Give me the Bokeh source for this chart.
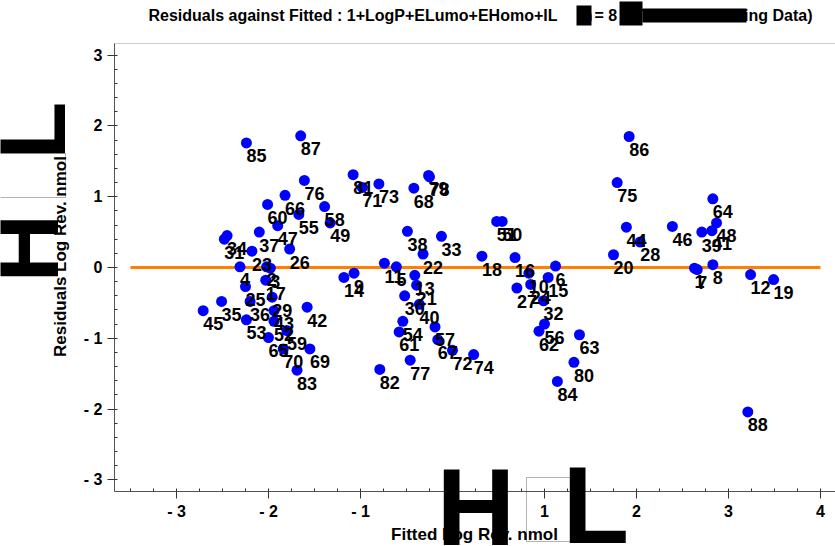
import numpy as np
from bokeh.plotting import figure
from bokeh.models import FixedTicker, Range1d, Label, BoxAnnotation, ColumnDataSource
from bokeh.core.properties import value
from bokeh.embed import file_html
from bokeh.resources import INLINE

# ---- data ----
ids = list(range(1, 89))
fitted = [2.63, -2.02, -1.98, -2.31, -0.61, 1.12, 2.66, 2.83, -1.07, 0.83,
          -0.74, 3.24, -0.41, -1.18, 1.04, 0.68, -2.03, 0.32, 3.49, 1.75,
          -0.39, -0.32, -2.18, 0.85, -2.25, -1.77, 0.70, 2.04, -1.96, -0.52,
          -2.48, 0.99, -0.12, -2.45, -2.51, -2.20, -2.10, -0.49, 2.71, -0.36,
          2.82, -1.58, -1.94, 1.89, -2.71, 2.39, -1.90, 2.87, -1.33, 0.54,
          0.48, -1.94, -2.24, -0.54, -1.67, 1.00, -0.19, -1.39, -1.80, -2.01,
          -0.58, 0.94, 1.38, 2.83, -2.00, -1.82, -0.16, -0.42, -1.55, -1.84,
          -0.98, 0.00, -0.80, 0.23, 1.79, -1.61, -0.46, -0.25, -0.26, 1.32,
          -1.08, -0.79, -1.69, 1.14, -2.24, 1.92, -1.65, 3.21]
residual = [-0.01, 0.01, -0.01, 0.01, 0.01, 0.02, -0.03, 0.04, -0.08, -0.08,
            0.06, -0.10, -0.11, -0.14, -0.14, 0.14, -0.18, 0.16, -0.17, 0.18,
            -0.25, 0.19, 0.23, -0.24, -0.27, 0.26, -0.29, 0.36, -0.42, -0.40,
            0.40, -0.47, 0.44, 0.45, -0.48, -0.48, 0.50, 0.51, 0.50, -0.52,
            0.52, -0.56, -0.61, 0.57, -0.61, 0.58, 0.59, 0.63, 0.63, 0.65,
            0.65, -0.76, -0.74, -0.76, 0.75, -0.80, -0.84, 0.86, -0.89, 0.89,
            -0.91, -0.90, -0.95, 0.97, -0.99, 1.02, -1.02, 1.12, -1.15, -1.15,
            1.13, -1.17, 1.18, -1.23, 1.20, 1.23, -1.31, 1.28, 1.30, -1.34,
            1.31, -1.44, -1.45, -1.61, 1.76, 1.85, 1.86, -2.04]
zero_x = [-3.5, 4.0]
zero_y = [0.0, 0.0]
x_ticks = [-3, -2, -1, 0, 1, 2, 3, 4]
y_ticks = [-3, -2, -1, 0, 1, 2, 3]
tick_text = {-3: "- 3", -2: "- 2", -1: "- 1"}

title_parts = ["Residuals against Fitted : 1+LogP+ELumo+EHomo+IL", "(n", "= 8",
               "8, Train", "ing Data)"]
x_label = "Fitted Log Rev. nmol"
y_label = "Residuals Log Rev. nmol"

# ---- layout constants ----
W, H = 835, 546
X_VIEW = (-4.913, 4.163)   # whole canvas
Y_VIEW = (-3.941, 3.771)
X_BOX = (-3.674, 4.163)    # plotting box
Y_BOX = (-3.164, 3.164)
FONT = "Liberation Sans"
BASE_SHIFT = 0.35          # renderer puts the alphabetic baseline this many em lower


def scr(cx, cy, size=0.0, rotated=False):
    """canvas px (top-left origin, baseline) -> frame screen units"""
    if rotated:
        cx -= BASE_SHIFT * size
    else:
        cy -= BASE_SHIFT * size
    return dict(x=cx, y=H - cy, x_units="screen", y_units="screen")


src = ColumnDataSource(dict(x=fitted, y=residual, lab=[str(i) for i in ids]))

p = figure(width=W, height=H, output_backend="svg", toolbar_location=None,
           x_range=Range1d(*X_VIEW), y_range=Range1d(*Y_VIEW), min_border=0)
p.background_fill_color = "white"
p.border_fill_color = "white"
p.outline_line_color = None
p.xgrid.visible = False
p.ygrid.visible = False

p.line(zero_x, zero_y, color="#FF7F00", line_width=3)
p.scatter("x", "y", source=src, size=11, color="#0000FF", line_color=None)
p.text("x", "y", text="lab", source=src, text_font=value(FONT),
       text_font_style="bold", text_font_size="18px", text_color="black",
       text_align="left", text_baseline="alphabetic", x_offset=0, y_offset=13)

minor_x = [v / 4 for v in range(-14, 17)]
minor_y = [v / 5 for v in range(-15, 16)]
p.xaxis.ticker = FixedTicker(ticks=x_ticks, minor_ticks=minor_x)
p.yaxis.ticker = FixedTicker(ticks=y_ticks, minor_ticks=minor_y)
p.xaxis.fixed_location = Y_BOX[0]
p.yaxis.fixed_location = X_BOX[0]
p.xaxis.bounds = X_BOX
p.yaxis.bounds = Y_BOX
for ax in (p.xaxis[0], p.yaxis[0]):
    ax.major_label_overrides = tick_text
    ax.axis_line_color = "#555555"
    ax.major_tick_line_color = "#333333"
    ax.minor_tick_line_color = "#333333"
    ax.major_tick_in = 0
    ax.major_tick_out = 7
    ax.minor_tick_in = 3
    ax.minor_tick_out = 0
    ax.major_label_text_font = FONT
    ax.major_label_text_font_style = "bold"
    ax.major_label_text_font_size = "16px"
    ax.major_label_text_color = "black"

# plotting box (top / right edges)
p.add_layout(BoxAnnotation(left=X_BOX[0], right=X_BOX[1], bottom=Y_BOX[0],
                           top=Y_BOX[1], fill_alpha=0, line_color="#555555",
                           line_width=1))

txt = dict(text_font=FONT, text_font_style="bold", text_color="black",
           text_baseline="alphabetic")


def box(l, r, t, b, **kw):
    return BoxAnnotation(left=l, right=r, top=H - t, bottom=H - b,
                         left_units="screen", right_units="screen",
                         top_units="screen", bottom_units="screen", **kw)


# title, pieces placed as in the reference (some glyphs are blacked out there)
TS = 16
p.add_layout(Label(text=title_parts[0], text_font_size=f"{TS}px", text_align="left",
                   **scr(148, 21, TS), **txt))
p.add_layout(Label(text=title_parts[1], text_font_size=f"{TS}px", text_align="left",
                   **scr(577, 21, TS), **txt))
p.add_layout(Label(text=title_parts[2], text_font_size=f"{TS}px", text_align="left",
                   **scr(594, 21, TS), **txt))
p.add_layout(Label(text=title_parts[3], text_font_size=f"{TS}px", text_align="left",
                   **scr(621, 21, TS), **txt))
p.add_layout(Label(text=title_parts[4], text_font_size=f"{TS}px", text_align="right",
                   **scr(812, 21, TS), **txt))
p.add_layout(box(576, 591, 5, 25, fill_color="black", fill_alpha=1, line_color=None))
p.add_layout(box(619, 642, 1, 25, fill_color="black", fill_alpha=1, line_color=None))
p.add_layout(box(642, 746, 8, 22, fill_color="black", fill_alpha=1, line_color=None))

# axis titles
p.add_layout(Label(text=x_label, text_font_size="17px", text_align="center",
                   **scr(474, 540, 17), **txt))
p.add_layout(Label(text=y_label, text_font_size="17px", text_align="center",
                   angle=np.pi / 2, **scr(66, 256, 17, True), **txt))

# oversized bracket glyphs as they appear in the reference
p.add_layout(Label(text="H", text_font_size="109px", **scr(436, 545, 109), **txt))
p.add_layout(Label(text="L", text_font_size="109px", **scr(562, 543, 109), **txt))
p.add_layout(Label(text="H", text_font_size="95px", angle=np.pi / 2,
                   **scr(58, 282, 95, True), **txt))
p.add_layout(Label(text="L", text_font_size="95px", angle=np.pi / 2,
                   **scr(65, 159, 95, True), **txt))
p.add_layout(box(526, 570, 477, 541, fill_alpha=0, line_color="black", line_width=1))
p.add_layout(box(-5, 65, 153, 197, fill_alpha=0, line_color="black", line_width=1))

open("out.html", "w").write(file_html(p, INLINE))
